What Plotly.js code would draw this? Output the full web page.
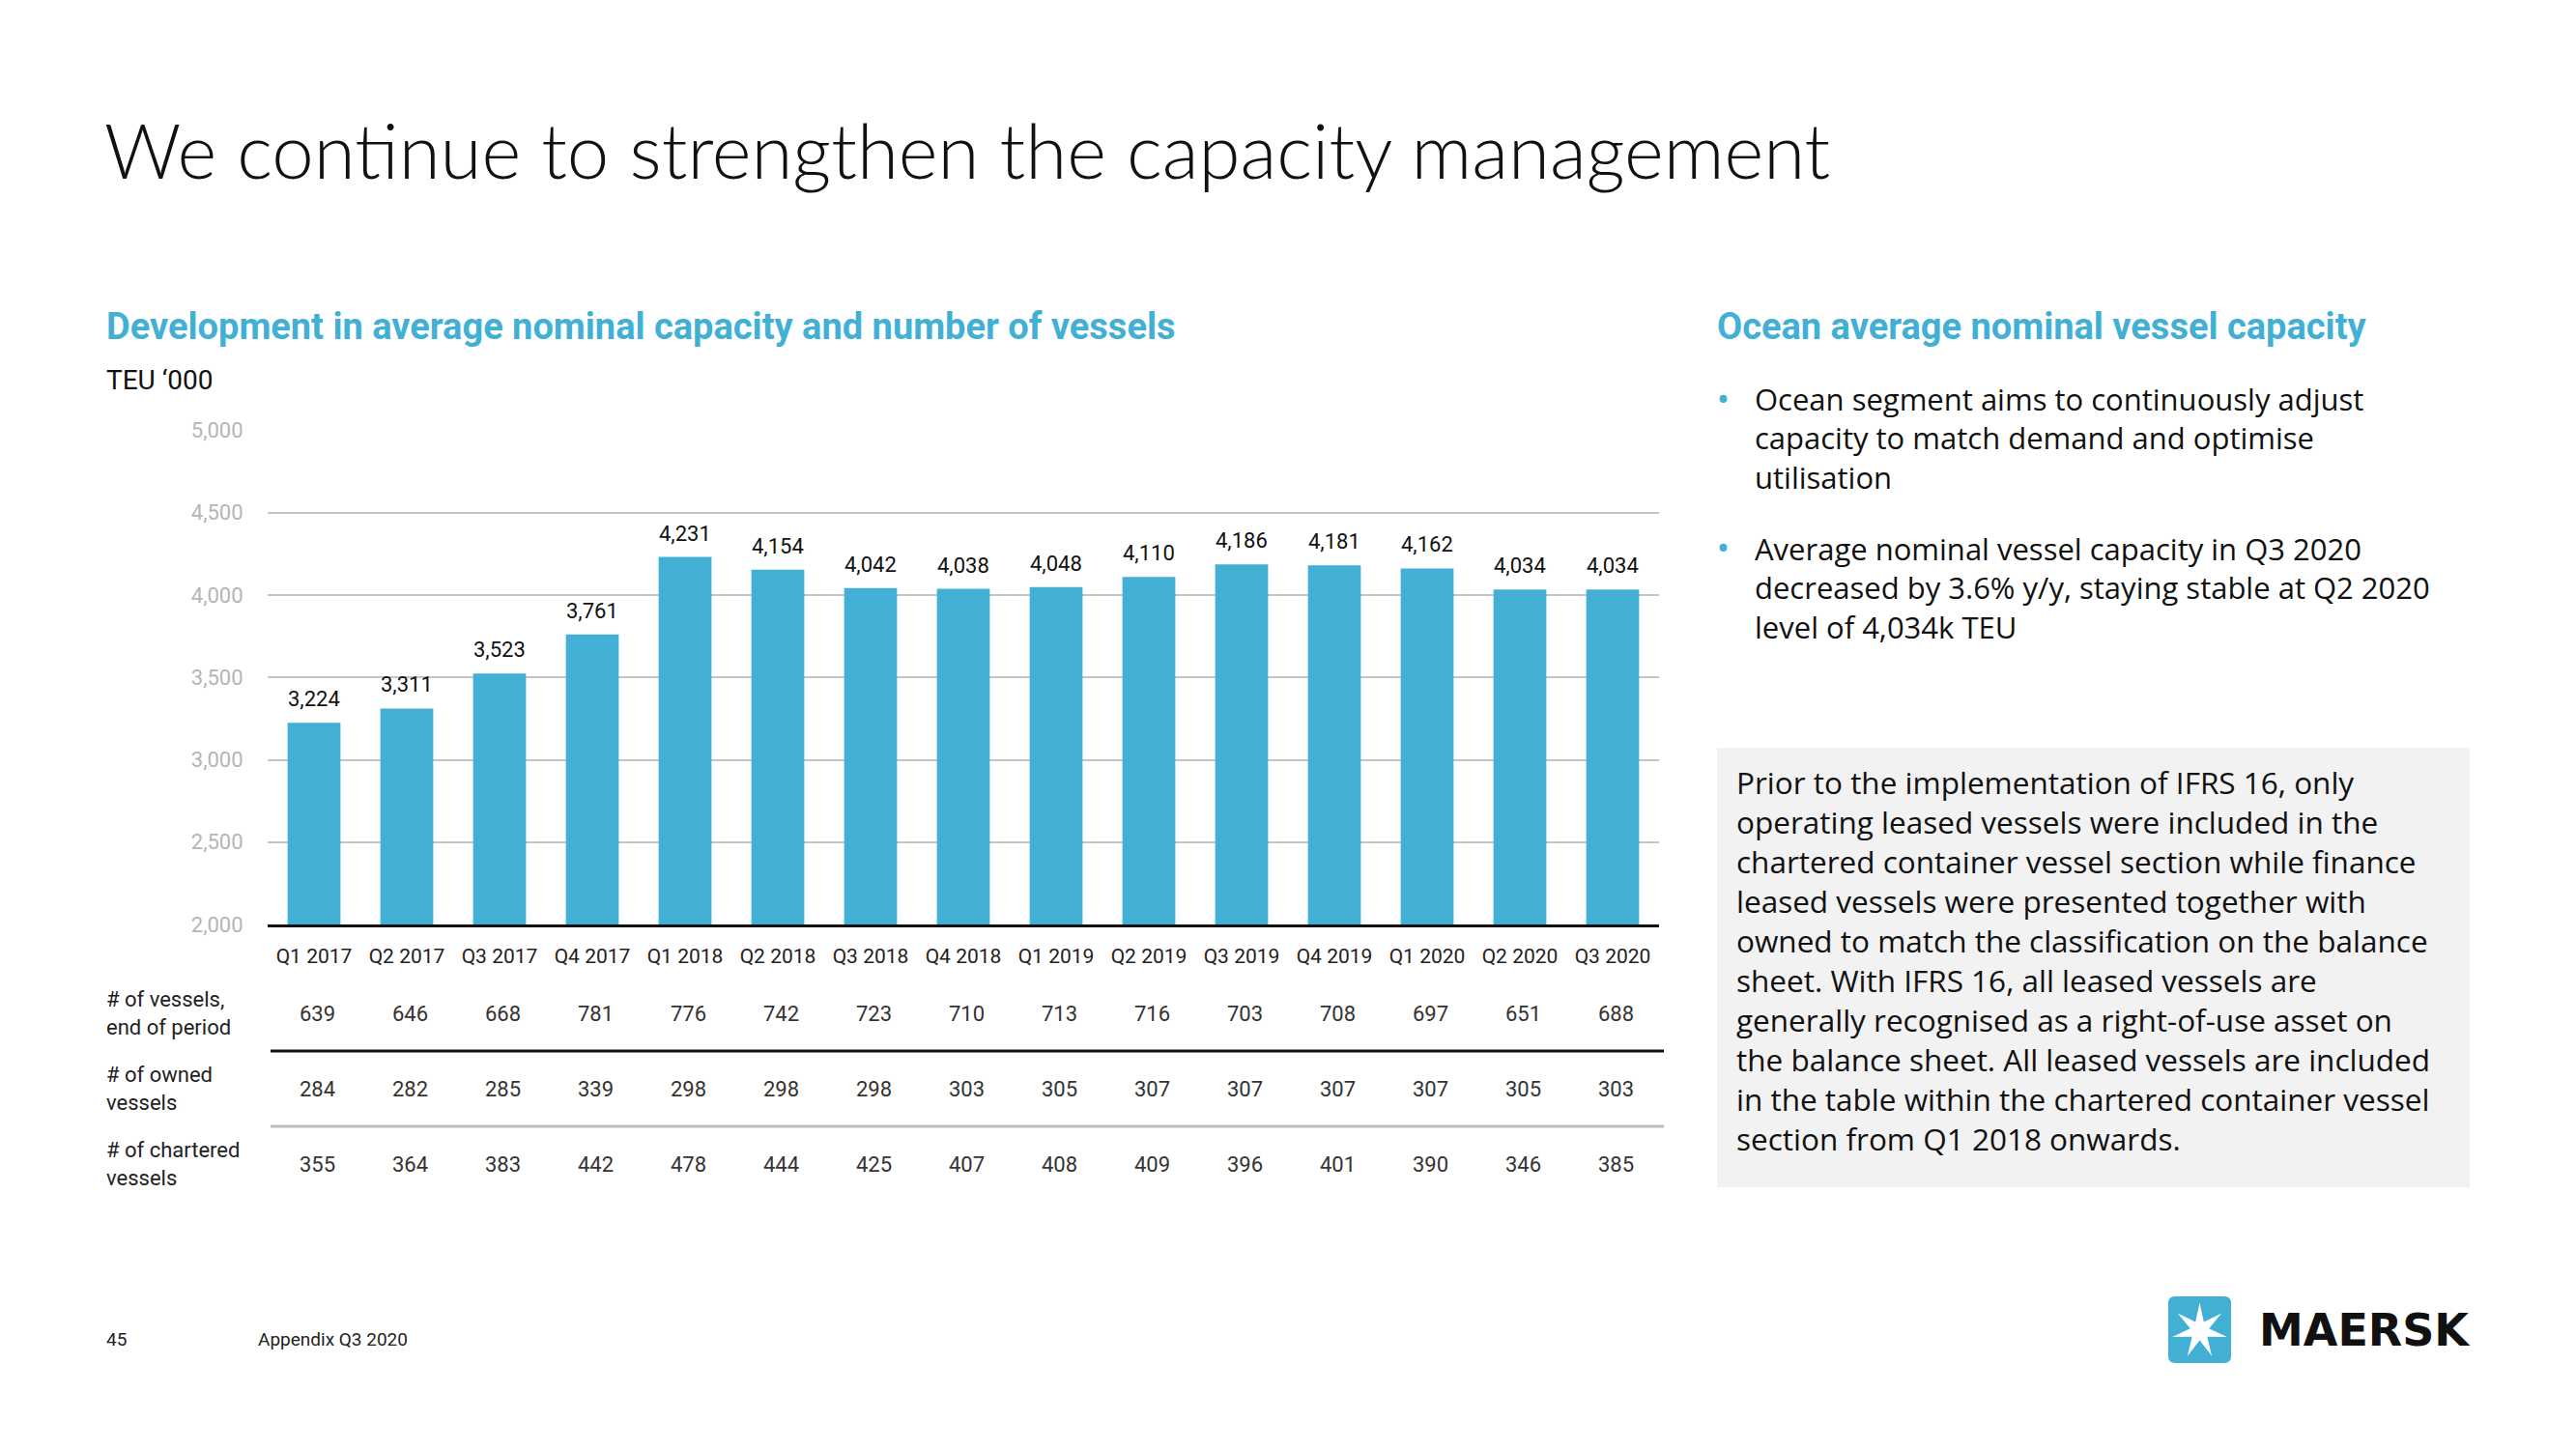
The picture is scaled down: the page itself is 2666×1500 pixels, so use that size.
<!DOCTYPE html>
<html>
<head>
<meta charset="utf-8">
<script src="https://cdn.plot.ly/plotly-3.0.1.min.js"></script>
<style>html,body{margin:0;padding:0;background:#fff;}#chart{width:2666px;height:1500px;}</style>
</head>
<body>
<div id="chart"></div>
<script>
// ---- data ----
const categories = ['Q1 2017','Q2 2017','Q3 2017','Q4 2017','Q1 2018','Q2 2018','Q3 2018','Q4 2018','Q1 2019','Q2 2019','Q3 2019','Q4 2019','Q1 2020','Q2 2020','Q3 2020'];
const capacity = [3224,3311,3523,3761,4231,4154,4042,4038,4048,4110,4186,4181,4162,4034,4034];
const vesselsEnd = [639,646,668,781,776,742,723,710,713,716,703,708,697,651,688];
const ownedVessels = [284,282,285,339,298,298,298,303,305,307,307,307,307,305,303];
const charteredVessels = [355,364,383,442,478,444,425,407,408,409,396,401,390,346,385];
const rowLabels = ['# of vessels,<br>end of period','# of owned<br>vessels','# of chartered<br>vessels'];
const yTicks = [2000,2500,3000,3500,4000,4500,5000];

const W = 2666, H = 1500;
const px = x => x / W;
const py = y => 1 - y / H;
const BLUE = '#42b0d5';
const FONT = 'Roboto, "Open Sans", sans-serif';
const BODY = '"Open Sans", Roboto, sans-serif';

const annotations = [];
const shapes = [];

// title texts
annotations.push({xref:'paper',yref:'paper',x:px(106),y:py(155),xanchor:'left',yanchor:'middle',showarrow:false,
  text:'We continue to strengthen the capacity management',font:{family:'Lato, "Open Sans", sans-serif',size:78,color:'#111',weight:300}});
annotations.push({xref:'paper',yref:'paper',x:px(108),y:py(338),xanchor:'left',yanchor:'middle',showarrow:false,
  text:'Development in average nominal capacity and number of vessels',font:{family:FONT,size:38,color:BLUE,weight:700}});
annotations.push({xref:'paper',yref:'paper',x:px(108),y:py(393),xanchor:'left',yanchor:'middle',showarrow:false,
  text:'TEU \u2018000',font:{family:FONT,size:28,color:'#111'}});

// data labels above bars
categories.forEach((c,i)=>{
  annotations.push({xref:'x',yref:'y',x:c,y:capacity[i],yanchor:'bottom',yshift:10,showarrow:false,
    text:capacity[i].toLocaleString('en-US'),font:{family:FONT,size:22,color:'#111'}});
});

// table
const rows = [vesselsEnd, ownedVessels, charteredVessels];
const rowY = [1049, 1127, 1205];
rows.forEach((vals,r)=>{
  annotations.push({xref:'paper',yref:'paper',x:px(108),y:py(rowY[r]),xanchor:'left',yanchor:'middle',align:'left',showarrow:false,
    text:rowLabels[r],font:{family:FONT,size:22,color:'#222'}});
  vals.forEach((v,i)=>{
    annotations.push({xref:'x',yref:'paper',x:categories[i],xshift:3,y:py(rowY[r]),yanchor:'middle',showarrow:false,
      text:String(v),font:{family:FONT,size:22,color:'#333'}});
  });
});
shapes.push({type:'line',xref:'paper',yref:'paper',x0:px(280),x1:px(1722),y0:py(1088),y1:py(1088),line:{color:'#111',width:3}});
shapes.push({type:'line',xref:'paper',yref:'paper',x0:px(280),x1:px(1722),y0:py(1166),y1:py(1166),line:{color:'#bdbdbd',width:3}});

// right panel
annotations.push({xref:'paper',yref:'paper',x:px(1775),y:py(338),xanchor:'left',yanchor:'middle',showarrow:false,
  text:'Ocean average nominal vessel capacity',font:{family:FONT,size:38,color:BLUE,weight:700}});
annotations.push({xref:'paper',yref:'paper',x:px(1783),y:py(414),xanchor:'center',yanchor:'middle',showarrow:false,
  text:'\u2022',font:{family:FONT,size:38,color:BLUE}});
annotations.push({xref:'paper',yref:'paper',x:px(1814),y:py(454),xanchor:'left',yanchor:'middle',align:'left',showarrow:false,
  text:'Ocean segment aims to continuously adjust<br>capacity to match demand and optimise<br>utilisation',font:{family:BODY,size:31,color:'#111'}});
annotations.push({xref:'paper',yref:'paper',x:px(1783),y:py(568),xanchor:'center',yanchor:'middle',showarrow:false,
  text:'\u2022',font:{family:FONT,size:38,color:BLUE}});
annotations.push({xref:'paper',yref:'paper',x:px(1814),y:py(608),xanchor:'left',yanchor:'middle',align:'left',showarrow:false,
  text:'Average nominal vessel capacity in Q3 2020<br>decreased by 3.6% y/y, staying stable at Q2 2020<br>level of 4,034k TEU',font:{family:BODY,size:31,color:'#111'}});

shapes.push({type:'rect',xref:'paper',yref:'paper',x0:px(1777),x1:px(2556),y0:py(1229),y1:py(774),fillcolor:'#f2f2f2',line:{width:0},layer:'below'});
annotations.push({xref:'paper',yref:'paper',x:px(1795),y:py(994),xanchor:'left',yanchor:'middle',align:'left',showarrow:false,
  text:'Prior to the implementation of IFRS 16, only<br>operating leased vessels were included in the<br>chartered container vessel section while finance<br>leased vessels were presented together with<br>owned to match the classification on the balance<br>sheet. With IFRS 16, all leased vessels are<br>generally recognised as a right-of-use asset on<br>the balance sheet. All leased vessels are included<br>in the table within the chartered container vessel<br>section from Q1 2018 onwards.',
  font:{family:BODY,size:31.5,color:'#111'}});

// footer
annotations.push({xref:'paper',yref:'paper',x:px(108),y:py(1386),xanchor:'left',yanchor:'middle',showarrow:false,
  text:'45',font:{family:FONT,size:19,color:'#222'}});
annotations.push({xref:'paper',yref:'paper',x:px(265),y:py(1386),xanchor:'left',yanchor:'middle',showarrow:false,
  text:'Appendix Q3 2020',font:{family:FONT,size:19,color:'#222'}});

// logo
(function(){
  const x0=2244,x1=2309,y0=1342,y1=1411,r=7;
  const P=(x,y)=>px(x)+','+py(y);
  const d='M'+P(x0+r,y0)+' L'+P(x1-r,y0)+' Q'+P(x1,y0)+' '+P(x1,y0+r)+' L'+P(x1,y1-r)+' Q'+P(x1,y1)+' '+P(x1-r,y1)+
    ' L'+P(x0+r,y1)+' Q'+P(x0,y1)+' '+P(x0,y1-r)+' L'+P(x0,y0+r)+' Q'+P(x0,y0)+' '+P(x0+r,y0)+' Z';
  shapes.push({type:'path',xref:'paper',yref:'paper',path:d,fillcolor:BLUE,line:{width:0}});
  const cx=(x0+x1)/2, cy=(y0+y1)/2+1, R=29, ri=10;
  let s='';
  for(let i=0;i<14;i++){
    const a=-Math.PI/2+i*Math.PI/7; const rr=(i%2===0)?R:ri;
    s+=(i===0?'M':' L')+P(cx+rr*Math.cos(a), cy+rr*Math.sin(a));
  }
  s+=' Z';
  shapes.push({type:'path',xref:'paper',yref:'paper',path:s,fillcolor:'#fff',line:{width:0}});
})();
annotations.push({xref:'paper',yref:'paper',x:px(2336),y:py(1377),xanchor:'left',yanchor:'middle',showarrow:false,
  text:'MAERSK',font:{family:'"DejaVu Sans", sans-serif',size:46,color:'#111',weight:700}});

const trace = {
  type:'bar', x:categories, y:capacity, marker:{color:BLUE}, hoverinfo:'skip'
};

const layout = {
  width:W, height:H, margin:{l:0,r:0,t:0,b:0},
  paper_bgcolor:'#fff', plot_bgcolor:'#fff', showlegend:false, bargap:0.43,
  font:{family:FONT},
  xaxis:{domain:[px(277),px(1717)], type:'category', showline:true, linecolor:'#111', linewidth:3,
    ticks:'outside', ticklen:12, tickcolor:'rgba(0,0,0,0)', tickfont:{family:FONT,size:21,color:'#222'},
    showgrid:false, zeroline:false, fixedrange:true},
  yaxis:{domain:[py(957),py(445.5)], range:[2000,5000], tickvals:yTicks, tickformat:',d',
    tickfont:{family:FONT,size:22,color:'#b5b5b5'}, gridcolor:'#c4c4c4', gridwidth:2, zeroline:false,
    ticks:'outside', ticklen:20, tickcolor:'rgba(0,0,0,0)', showline:false, fixedrange:true},
  annotations, shapes
};
Plotly.newPlot('chart',[trace],layout,{displayModeBar:false,staticPlot:true});
</script>
</body>
</html>
